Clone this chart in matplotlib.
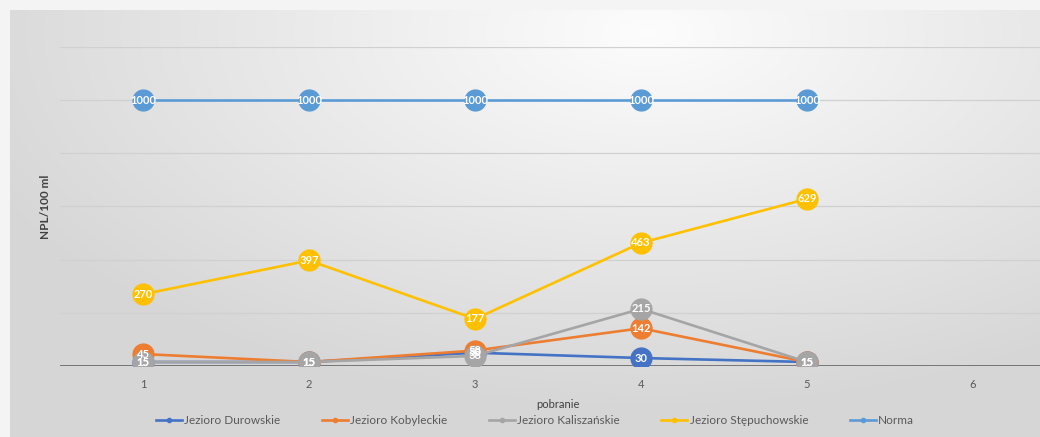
#!/usr/bin/env python3

import numpy as np
import matplotlib
matplotlib.use("Agg")
import matplotlib.pyplot as plt
from matplotlib.lines import Line2D

plt.rcParams['font.family'] = ['Lato', 'DejaVu Sans']

# data
pobranie = [1, 2, 3, 4, 5]
categories = ['1', '2', '3', '4', '5', '6']
durowskie = [15, 15, 50, 30, 15]
kobyleckie = [45, 15, 58, 142, 15]
kaliszanskie = [15, 15, 38, 215, 15]
stepuchowskie = [270, 397, 177, 463, 629]
norma = [1000, 1000, 1000, 1000, 1000]

series = [
    ("Jezioro Durowskie", durowskie, "#4472C4"),
    ("Jezioro Kobyleckie", kobyleckie, "#ED7D31"),
    ("Jezioro Kaliszańskie", kaliszanskie, "#A5A5A5"),
    ("Jezioro Stępuchowskie", stepuchowskie, "#FFC000"),
    ("Norma", norma, "#5B9BD5"),
]

W, H = 1040, 437
fig = plt.figure(figsize=(W / 100, H / 100), dpi=100)
fig.patch.set_facecolor("#f4f4f4")

# gradient background of the chart area
bg = fig.add_axes([10 / W, 0, 1 - 10 / W, 1 - 10 / H])
bg.set_axis_off()
yy, xx = np.mgrid[0:1:200j, 0:1:400j]
dist = np.sqrt((xx - 0.62) ** 2 + ((yy - 0.05) * 0.8) ** 2)
shade = np.clip(0.99 - 0.21 * dist, 0.84, 0.99)
bg.imshow(np.dstack([shade] * 3), aspect="auto", extent=[0, 1, 1, 0])

# plot area: categories 0.5..6.5, cropped on the right
left = 60 / W
width = (6 * 166) / W
ax = fig.add_axes([left, 1 - 366 / H, width, (366 - 47) / H])
ax.patch.set_alpha(0)
ax.set_xlim(0.5, 6.5)
ax.set_ylim(0, 1200)
ax.set_yticks(np.arange(0, 1201, 200))
ax.set_yticklabels([])
ax.tick_params(axis="y", length=0)
ax.grid(axis="y", color="#d0d0d0", linewidth=0.9)
ax.set_axisbelow(True)
ax.axhline(0, color="#595959", linewidth=1.8, zorder=2)
for s in ax.spines.values():
    s.set_visible(False)
ax.set_xticks(range(1, 7))
ax.set_xticklabels(categories, color="#595959", fontsize=8)
ax.tick_params(axis="x", length=0, pad=9)
ax.set_xlabel("pobranie", fontsize=8, color="#404040", labelpad=7)
ax.set_ylabel("NPL/100 ml", fontsize=8.5, color="#404040", fontweight="bold", labelpad=3)

handles = []
for name, vals, col in series:
    ax.plot(pobranie, vals, color=col, linewidth=1.9, marker="o", markersize=15,
            markeredgecolor=col, zorder=3)
    for x, v in zip(pobranie, vals):
        ax.text(x, v, str(v), color="white", fontsize=8, fontweight="bold",
                ha="center", va="center", zorder=4)
    handles.append(Line2D([], [], color=col, linewidth=1.9, marker="o", markersize=3))

fig.legend(handles, [s[0] for s in series], loc="center", bbox_to_anchor=(535 / W, 1 - 421 / H),
           ncol=5, frameon=False, fontsize=8.5, handlelength=2.2, handletextpad=0.2,
           columnspacing=3.5, labelcolor="#595959")

fig.savefig("out.png", dpi=100, facecolor=fig.get_facecolor())
